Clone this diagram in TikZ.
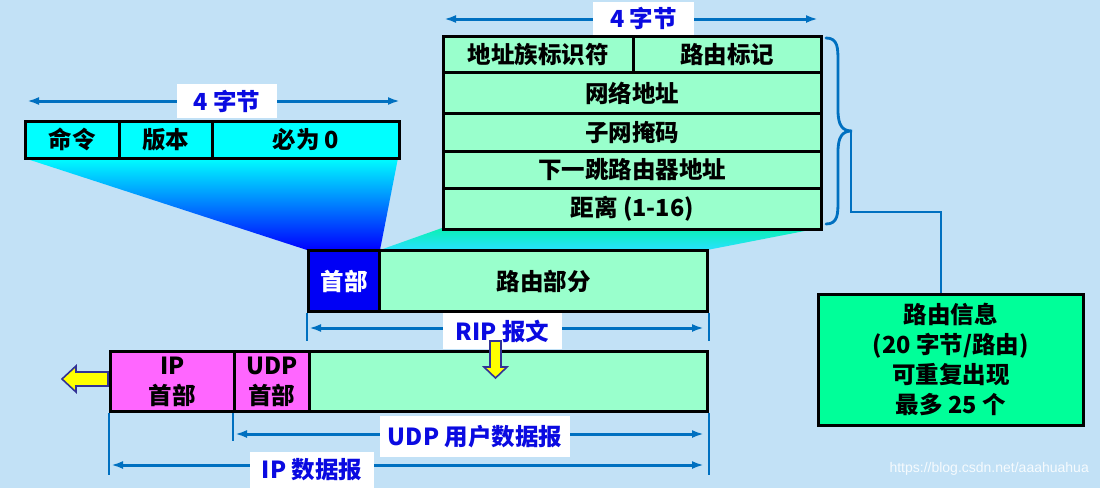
\documentclass[tikz,border=0pt]{standalone}
\usepackage{fontspec}
\setmainfont{Noto Sans CJK SC}
\setsansfont{Liberation Sans}
\usetikzlibrary{arrows.meta,calc}
\definecolor{bg}{RGB}{194,225,246}
\definecolor{mint}{RGB}{153,255,204}
\definecolor{spring}{RGB}{0,255,153}
\definecolor{magen}{RGB}{255,102,255}
\definecolor{cyn}{RGB}{0,255,255}
\definecolor{blu}{RGB}{0,0,255}
\definecolor{hdrblue}{RGB}{0,0,245}
\definecolor{labblue}{RGB}{10,10,225}
\definecolor{dimblue}{RGB}{0,112,192}
\definecolor{yarrow}{RGB}{255,255,0}
\definecolor{navy}{RGB}{50,50,150}
\begin{document}
\begin{tikzpicture}[x=1pt,y=-1pt,
  font=\bfseries\fontsize{23.5}{30}\selectfont,
  cell/.style={draw=black, line width=2.8pt, inner sep=0pt, anchor=north west, text=black},
  lab/.style={fill=white, text=labblue, inner sep=0pt},
  dim/.style={draw=dimblue, line width=3pt, {Latex[length=12pt,width=8pt]}-{Latex[length=12pt,width=8pt]}},
  tickl/.style={draw=dimblue, line width=2pt},
  conn/.style={draw=dimblue, line width=2.2pt},
  yarr/.style={fill=yarrow, draw=navy, line width=1.6pt, line join=miter}]
\fill[bg] (0,0) rectangle (1100,488);
\useasboundingbox (0,0) rectangle (1100,488);

% gradient funnels
\shade[top color=cyn, middle color=cyn!75!blu, bottom color=blu]
  (24,158) -- (398,158) -- (380,250) -- (307,250) -- cycle;
\shade[top color={rgb,255:red,10;green,240;blue,180}, bottom color={rgb,255:red,40;green,225;blue,255}]
  (442,228) -- (820,228) -- (707,250) -- (380,250) -- cycle;

% top-left header fields
\coordinate (a1l) at (27,101);
\coordinate (a1r) at (400,101);
\draw[dim] (a1l) -- (a1r);
\node[lab, minimum width=100pt, minimum height=34pt] (L1) at (227,101) {4 字节};
\node[cell, fill=cyn, minimum width=94pt, minimum height=37pt] (h1) at (24,120) {命令};
\node[cell, fill=cyn, minimum width=93pt, minimum height=37pt] (h2) at (118,120) {版本};
\node[cell, fill=cyn, minimum width=187pt, minimum height=37pt] (h3) at (211,120) {必为 0};

% route entry fields
\coordinate (a2l) at (444,19);
\coordinate (a2r) at (818,19);
\draw[dim] (a2l) -- (a2r);
\node[lab, minimum width=101pt, minimum height=33pt] (L2) at (643.5,18) {4 字节};
\node[cell, fill=mint, minimum width=190pt, minimum height=36pt] (r1a) at (442,35) {地址族标识符};
\node[cell, fill=mint, minimum width=188pt, minimum height=36pt] (r1b) at (632,35) {路由标记};
\node[cell, fill=mint, minimum width=378pt, minimum height=41pt] (r2) at (442,71) {网络地址};
\node[cell, fill=mint, minimum width=378pt, minimum height=38pt] (r3) at (442,112) {子网掩码};
\node[cell, fill=mint, minimum width=378pt, minimum height=37pt] (r4) at (442,150) {下一跳路由器地址};
\node[cell, fill=mint, minimum width=378pt, minimum height=41pt] (r5) at (442,187) {距离 (1-16)};

% brace and link to info box
\draw[draw=dimblue, line width=2.8pt, line cap=round]
  (826,38) .. controls (838,38) and (838,48) .. (838,62) -- (838,110)
  .. controls (838,125) and (842,131) .. (852,131)
  .. controls (842,131) and (838,137) .. (838,152) -- (838,200)
  .. controls (838,214) and (838,224) .. (826,224);
\coordinate (bt) at (851,131);
\coordinate (turn) at (941,212);
\node[cell, fill=spring, line width=2.8pt, minimum width=265pt, minimum height=131pt, align=center] (info) at (817,293)
  {路由信息\\(20 字节/路由)\\可重复出现\\最多 25 个};
\draw[conn] (bt) |- (turn) -- (turn |- info.north);

% RIP message
\node[cell, fill=hdrblue, text=white, line width=3.2pt, minimum width=71pt, minimum height=61pt] (rh) at (307,249) {首部};
\node[cell, fill=mint, line width=3.2pt, minimum width=328pt, minimum height=61pt] (rb) at (378,249) {路由部分};
\draw[tickl] (rh.south west) -- ++(0,28);
\draw[tickl] (rb.south east) -- ++(0,28);
\coordinate (a3l) at (309,328);
\coordinate (a3r) at (704,328);
\draw[dim] (a3l) -- (a3r);
\node[lab, minimum width=119pt, minimum height=36pt] (L3) at (502.5,331) {RIP 报文};

% IP datagram
\node[cell, fill=magen, minimum width=124pt, minimum height=60pt, align=center] (ip) at (109,350) {IP\\首部};
\node[cell, fill=magen, minimum width=75pt, minimum height=60pt, align=center] (udp) at (233,350) {UDP\\首部};
\node[cell, fill=mint, minimum width=398pt, minimum height=60pt] (data) at (308,350) {};
\draw[tickl] (udp.south west) -- ++(0,28);
\draw[tickl] (ip.south west) -- ++(0,62);
\draw[tickl] (data.south east) -- ++(0,62);
\coordinate (a4l) at (235,434);
\coordinate (a4r) at (704,434);
\draw[dim] (a4l) -- (a4r);
\node[lab, minimum width=190pt, minimum height=41pt] (L4) at (475,436.5) {UDP 用户数据报};
\coordinate (a5l) at (111,465);
\coordinate (a5r) at (704,465);
\draw[dim] (a5l) -- (a5r);
\node[lab, minimum width=124pt, minimum height=37pt] (L5) at (312,470) {IP 数据报};

% yellow arrows
\draw[yarr] (490,341) -- (501,341) -- (501,367) -- (507,367) -- (495.5,378) -- (484,367) -- (490,367) -- cycle;
\draw[yarr] (108,372) -- (76,372) -- (76,366) -- (62,379) -- (76,392) -- (76,386) -- (108,386) -- cycle;

% watermark
\node[font=\sffamily\mdseries\fontsize{14}{14}\selectfont, text=white, opacity=0.85, anchor=east, inner sep=0pt] (wm) at (1089,469) {https://blog.csdn.net/aaahuahua};
\end{tikzpicture}
\end{document}
